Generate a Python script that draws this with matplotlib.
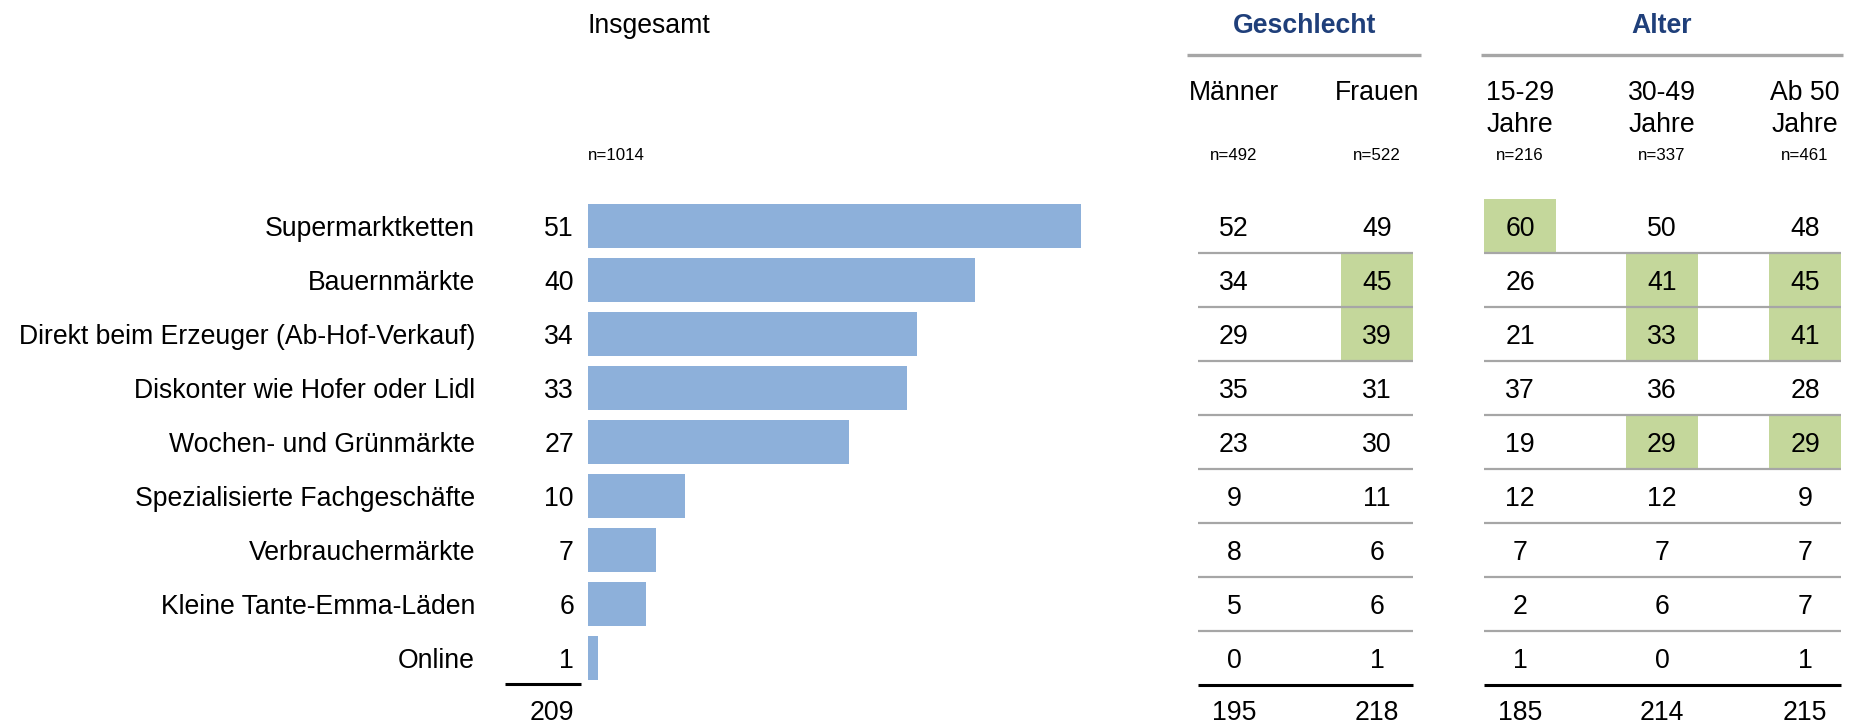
import matplotlib
matplotlib.use("Agg")
from matplotlib import pyplot as plt

plt.rcParams['font.family'] = ['Liberation Sans', 'DejaVu Sans']

kategorien = ["Supermarktketten", "Bauernmärkte", "Direkt beim Erzeuger (Ab-Hof-Verkauf)",
              "Diskonter wie Hofer oder Lidl", "Wochen- und Grünmärkte",
              "Spezialisierte Fachgeschäfte", "Verbrauchermärkte",
              "Kleine Tante-Emma-Läden", "Online"]
insgesamt = [51, 40, 34, 33, 27, 10, 7, 6, 1]
maenner = [52, 34, 29, 35, 23, 9, 8, 5, 0]
frauen = [49, 45, 39, 31, 30, 11, 6, 6, 1]
alter_15_29 = [60, 26, 21, 37, 19, 12, 7, 2, 1]
alter_30_49 = [50, 41, 33, 36, 29, 12, 7, 6, 0]
alter_ab_50 = [48, 45, 41, 28, 29, 9, 7, 7, 1]

spalten_titel = ["Männer", "Frauen", "15-29\nJahre", "30-49\nJahre", "Ab 50\nJahre"]
spalten_n = ["n=492", "n=522", "n=216", "n=337", "n=461"]
n_gesamt = "n=1014"
# signifikant hoehere Werte (Zeilenindex je Spalte)
hervorgehoben = [[], [1, 2], [0], [1, 2, 4], [1, 2, 4]]

spalten = [maenner, frauen, alter_15_29, alter_30_49, alter_ab_50]

# layout (pixel in x, zeilen in y)
W, H = 1850, 724
y0, dy = 226, 54
def zeile(px):
    return (px - y0) / dy

blau = "#8DB0DA"
gruen = "#C4D79B"
grau = "#A6A6A6"
titel_blau = "#1F3F7A"
fs = 19.2
fs_n = 12.2
bl = 10.5 / dy   # grundlinie unter zeilenmitte

fig = plt.figure(figsize=(W / 100, H / 100), dpi=100)
ax = fig.add_axes([0, 0, 1, 1])
ax.set_xlim(0, W)
ax.set_ylim(zeile(H), zeile(0))
ax.axis('off')

bar_x0 = 588
px_pro_punkt = 9.67
axb = fig.add_axes([bar_x0 / W, 0, (W - bar_x0) / W, 1])
axb.set_xlim(0, (W - bar_x0) / px_pro_punkt)
axb.set_ylim(zeile(H), zeile(0))
axb.axis('off')
axb.patch.set_alpha(0)

reihen = list(range(len(kategorien)))
axb.barh(reihen, insgesamt, height=0.815, color=blau, left=0)

# linke Spalte: Kategorien und Werte
for i, (k, v) in enumerate(zip(kategorien, insgesamt)):
    ax.text(475, i + bl, k, ha='right', va='baseline', fontsize=fs)
    ax.text(574, i + bl, str(v), ha='right', va='baseline', fontsize=fs)
ax.plot([505, 581], [zeile(684)] * 2, color='black', lw=2.2, solid_capstyle='butt')
ax.text(574, zeile(720), str(sum(insgesamt)), ha='right', va='baseline', fontsize=fs)
ax.text(588, zeile(33), "Insgesamt", ha='left', va='baseline', fontsize=fs)
ax.text(588, zeile(160), n_gesamt, ha='left', va='baseline', fontsize=fs_n)

# Tabelle rechts
spalten_x = [1234, 1377, 1520, 1662, 1805]
halb = 36
n_reihen = len(kategorien)
for s, (werte, x) in enumerate(zip(spalten, spalten_x)):
    for i, v in enumerate(werte):
        if i in hervorgehoben[s]:
            ax.add_patch(plt.Rectangle((x - halb, i - 0.5), 2 * halb, 1.0,
                                       color=gruen, lw=0, zorder=1))
        ax.text(x, i + bl, str(v), ha='center', va='baseline', fontsize=fs, zorder=3)
    ax.text(x, zeile(720), str(sum(werte)), ha='center', va='baseline', fontsize=fs)
    for j, teil in enumerate(spalten_titel[s].split("\n")):
        ax.text(x, zeile(100 + 32 * j), teil, ha='center', va='baseline', fontsize=fs)
    ax.text(x, zeile(160), spalten_n[s], ha='center', va='baseline', fontsize=fs_n)

gruppen = [(0, 2), (2, 5)]
for a, b in gruppen:
    xl = spalten_x[a] - halb
    xr = spalten_x[b - 1] + halb
    for i in range(n_reihen - 1):
        ax.plot([xl, xr], [i + 0.5] * 2, color=grau, lw=1.6, zorder=2,
                solid_capstyle='butt')
    ax.plot([xl, xr], [n_reihen - 0.5] * 2, color='black', lw=2.2, zorder=2,
            solid_capstyle='butt')

ax.plot([1187, 1421], [zeile(55)] * 2, color=grau, lw=2.4, solid_capstyle='butt')
ax.plot([1481, 1843], [zeile(55)] * 2, color=grau, lw=2.4, solid_capstyle='butt')
ax.text(1305, zeile(33), "Geschlecht", ha='center', va='baseline', fontsize=fs,
        fontweight='bold', color=titel_blau)
ax.text(1662, zeile(33), "Alter", ha='center', va='baseline', fontsize=fs,
        fontweight='bold', color=titel_blau)

fig.savefig("out.png", dpi=100)
